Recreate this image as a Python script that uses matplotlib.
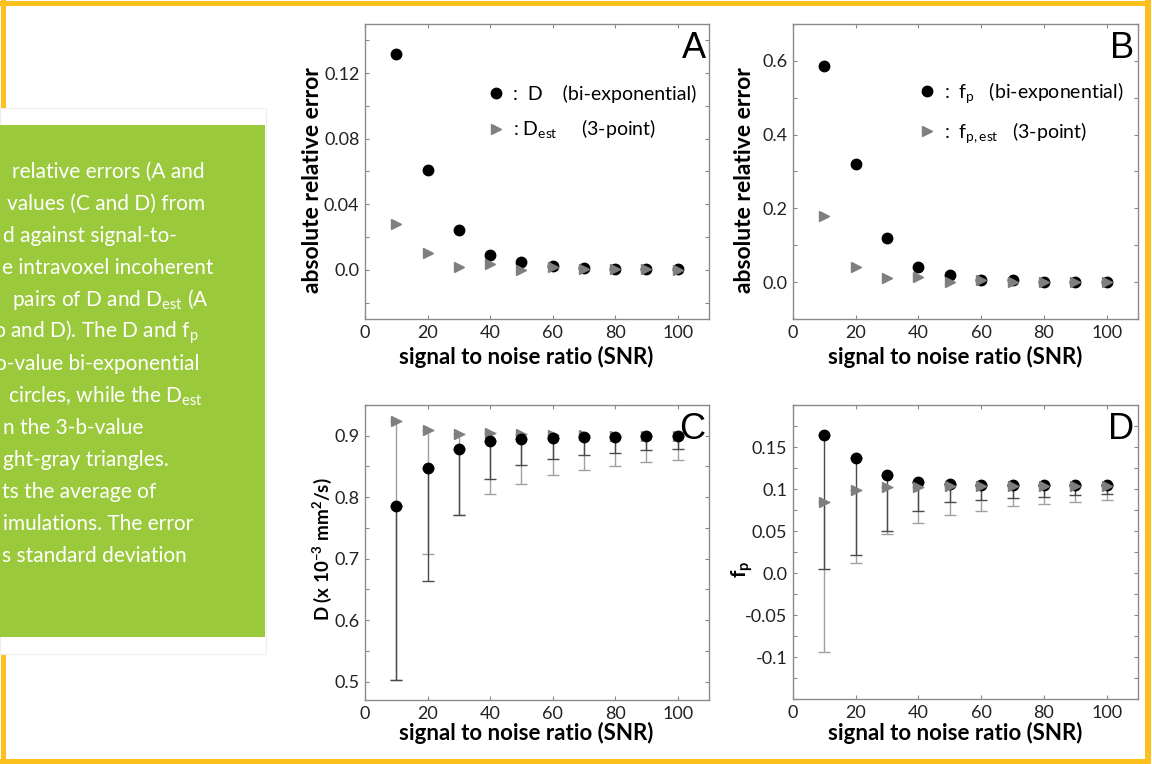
import matplotlib
matplotlib.use("Agg")
import matplotlib.pyplot as plt
from matplotlib.lines import Line2D
from matplotlib.patches import Rectangle
from matplotlib.ticker import FixedLocator, MultipleLocator
import numpy as np

plt.rcParams["font.family"] = ["Lato", "DejaVu Sans"]
plt.rcParams["mathtext.fontset"] = "custom"
plt.rcParams["mathtext.rm"] = "Lato"
plt.rcParams["mathtext.it"] = "Lato"
plt.rcParams["mathtext.bf"] = "Lato:bold"

W, H = 1152, 764

snr = [10, 20, 30, 40, 50, 60, 70, 80, 90, 100]

# panel A: absolute relative error of D
err_d = [0.1315, 0.0607, 0.0243, 0.0091, 0.0047, 0.0022, 0.0012, 0.0008, 0.0005, 0.0003]
err_dest = [0.0277, 0.0105, 0.0020, 0.0036, 0.0000, 0.0018, 0.0008, 0.0006, 0.0004, 0.0002]

# panel B: absolute relative error of fp
err_fp = [0.587, 0.320, 0.120, 0.041, 0.018, 0.006, 0.005, 0.001, 0.000, 0.000]
err_fpest = [0.178, 0.041, 0.011, 0.015, 0.000, 0.005, 0.000, 0.000, 0.000, 0.000]

# panel C: D mean and (lower) standard deviation
d_mean = [0.786, 0.847, 0.878, 0.891, 0.895, 0.897, 0.898, 0.898, 0.899, 0.899]
d_sd = [0.284, 0.184, 0.107, 0.062, 0.043, 0.0345, 0.030, 0.026, 0.023, 0.021]
dest_mean = [0.924, 0.909, 0.902, 0.904, 0.902, 0.901, 0.901, 0.900, 0.900, 0.900]
dest_sd = [0.421, 0.201, 0.131, 0.099, 0.080, 0.065, 0.057, 0.0495, 0.0435, 0.040]

# panel D: fp mean and (lower) standard deviation
fp_mean = [0.1647, 0.1369, 0.1163, 0.108, 0.106, 0.1048, 0.1045, 0.1043, 0.1042, 0.1042]
fp_sd = [0.160, 0.115, 0.0667, 0.0346, 0.0211, 0.0175, 0.0152, 0.0134, 0.0117, 0.0102]
fpest_mean = [0.0845, 0.0992, 0.102, 0.102, 0.103, 0.103, 0.103, 0.103, 0.103, 0.103]
fpest_sd = [0.179, 0.0873, 0.0556, 0.0429, 0.0343, 0.0288, 0.0236, 0.0209, 0.0189, 0.0165]

x_ticks = [0, 20, 40, 60, 80, 100]
a_yticks = [0.0, 0.04, 0.08, 0.12]
a_ylabels = ["0.0", "0.04", "0.08", "0.12"]
b_yticks = [0.0, 0.2, 0.4, 0.6]
b_ylabels = ["0.0", "0.2", "0.4", "0.6"]
c_yticks = [0.5, 0.6, 0.7, 0.8, 0.9]
c_ylabels = ["0.5", "0.6", "0.7", "0.8", "0.9"]
d_yticks = [-0.1, -0.05, 0.0, 0.05, 0.1, 0.15]
d_ylabels = ["-0.1", "-0.05", "0.0", "0.05", "0.1", "0.15"]

caption_lines = [
    "relative errors (A and",
    "values (C and D) from",
    "d against signal-to-",
    "e intravoxel incoherent",
    r"pairs of D and D$_{\mathrm{est}}$ (A",
    r"ɔ and D). The D and f$_{\mathrm{p}}$",
    "o-value bi-exponential",
    r" circles, while the D$_{\mathrm{est}}$",
    "n the 3-b-value",
    "ght-gray triangles.",
    "ts the average of",
    "imulations. The error",
    "s standard deviation",
]
caption_x = [12, 7, 3, 2, 12, -5, -5, 3, 3, 3, 2, 3, 2]

GRAY = "#7f7f7f"
YELLOW = "#fcc01d"
GREEN = "#9bc93c"


def px_axes(fig, left, top, right, bottom):
    return fig.add_axes([left / W, 1 - bottom / H, (right - left) / W, (bottom - top) / H])


def style(ax, ylim, yticks, ylabels, minor):
    ax.set_xlim(0, 110)
    ax.set_ylim(*ylim)
    ax.xaxis.set_major_locator(FixedLocator(x_ticks))
    ax.set_xticklabels([str(t) for t in x_ticks])
    ax.yaxis.set_major_locator(FixedLocator(yticks))
    ax.set_yticklabels(ylabels)
    ax.yaxis.set_minor_locator(MultipleLocator(minor))
    ax.tick_params(which="both", direction="in", top=True, right=True,
                   length=3, width=0.8, color="#888888",
                   labelsize=13, labelcolor="#222222", pad=4)
    for sp in ax.spines.values():
        sp.set_color("#8a8a8a")
        sp.set_linewidth(1.0)


fig = plt.figure(figsize=(W / 100, H / 100), dpi=100)

# frame and caption card
fig.add_artist(Rectangle((0, 1 - 6 / H), 1151 / W, 5 / H, transform=fig.transFigure,
                         facecolor=YELLOW, edgecolor="none"))
fig.add_artist(Rectangle((0, 0), 1151 / W, 5 / H, transform=fig.transFigure,
                         facecolor=YELLOW, edgecolor="none"))
fig.add_artist(Rectangle((1145 / W, 0), 6 / W, 1, transform=fig.transFigure,
                         facecolor=YELLOW, edgecolor="none"))
fig.add_artist(Rectangle((1 / W, 0), 5 / W, 1, transform=fig.transFigure,
                         facecolor=YELLOW, edgecolor="none"))
fig.add_artist(Rectangle((0, 1 - 654 / H), 266 / W, 546 / H, transform=fig.transFigure,
                         facecolor="white", edgecolor="#eeeeee", linewidth=0.8))
fig.add_artist(Rectangle((0, 1 - 637 / H), 265 / W, 512 / H, transform=fig.transFigure,
                         facecolor=GREEN, edgecolor="none"))
for i, line in enumerate(caption_lines):
    fig.text(caption_x[i] / W, 1 - (172 + 32 * i) / H, line, color="white",
             fontsize=15, ha="left", va="center")

axA = px_axes(fig, 365, 24, 709, 319)
axB = px_axes(fig, 793, 24, 1138, 319)
axC = px_axes(fig, 365, 405, 709, 700)
axD = px_axes(fig, 793, 405, 1138, 699)

ms_c, ms_t = 7.5, 7.5

# A
axA.plot(snr, err_d, "o", color="black", ms=ms_c, zorder=3)
axA.plot(snr, err_dest, ">", color=GRAY, ms=ms_t, zorder=4)
style(axA, (-0.03, 0.15), a_yticks, a_ylabels, 0.02)

# B
axB.plot(snr, err_fp, "o", color="black", ms=ms_c, zorder=3)
axB.plot(snr, err_fpest, ">", color=GRAY, ms=ms_t, zorder=4)
style(axB, (-0.1, 0.7), b_yticks, b_ylabels, 0.1)

# C
zeros = np.zeros(len(snr))
axC.errorbar(snr, dest_mean, yerr=[dest_sd, zeros], fmt="none", ecolor="#a0a0a0",
             elinewidth=1.0, capsize=4, capthick=1.0, zorder=1)
axC.errorbar(snr, d_mean, yerr=[d_sd, zeros], fmt="none", ecolor="#4a4a4a",
             elinewidth=1.0, capsize=4, capthick=1.0, zorder=2)
axC.plot(snr, dest_mean, ">", color=GRAY, ms=ms_t, zorder=3)
axC.plot(snr, d_mean, "o", color="black", ms=ms_c, zorder=4)
style(axC, (0.47, 0.95), c_yticks, c_ylabels, 0.05)

# D
axD.errorbar(snr, fpest_mean, yerr=[fpest_sd, zeros], fmt="none", ecolor="#a0a0a0",
             elinewidth=1.0, capsize=4, capthick=1.0, zorder=1)
axD.errorbar(snr, fp_mean, yerr=[fp_sd, zeros], fmt="none", ecolor="#4a4a4a",
             elinewidth=1.0, capsize=4, capthick=1.0, zorder=2)
axD.plot(snr, fp_mean, "o", color="black", ms=ms_c, zorder=3)
axD.plot(snr, fpest_mean, ">", color=GRAY, ms=ms_t, zorder=4)
style(axD, (-0.15, 0.2), d_yticks, d_ylabels, 0.025)

# legends
circ = Line2D([], [], marker="o", color="black", ls="none", ms=ms_c)
tri = Line2D([], [], marker=">", color=GRAY, ls="none", ms=ms_t)
axA.legend([circ, tri], [":  D    (bi-exponential)", r": D$_{\mathrm{est}}$     (3-point)"],
           loc="center left", bbox_to_anchor=(0.318, 0.70), frameon=False, fontsize=14,
           handletextpad=0.3, labelspacing=0.75, handlelength=1.2, borderpad=0)
axB.legend([circ, tri], [r":  f$_{\mathrm{p}}$   (bi-exponential)", r":  f$_{\mathrm{p,est}}$   (3-point)"],
           loc="center left", bbox_to_anchor=(0.325, 0.70), frameon=False, fontsize=14,
           handletextpad=0.3, labelspacing=0.75, handlelength=1.2, borderpad=0)

for ax, letter in zip([axA, axB, axC, axD], "ABCD"):
    ax.text(0.99, 0.975, letter, transform=ax.transAxes, ha="right", va="top",
            fontsize=26, family="Liberation Sans")

xlab = "signal to noise ratio (SNR)"
for ax, lab_y in [(axA, -0.129), (axB, -0.129), (axC, -0.112), (axD, -0.115)]:
    ax.set_xlabel(xlab, fontsize=16, fontweight="bold", va="center")
    ax.xaxis.set_label_coords(0.47, lab_y)

axA.set_ylabel("absolute relative error", fontsize=16.5, fontweight="bold", va="center")
axA.yaxis.set_label_coords(-0.153, 0.47)
axB.set_ylabel("absolute relative error", fontsize=16.5, fontweight="bold", va="center")
axB.yaxis.set_label_coords(-0.14, 0.47)
axC.set_ylabel(r"D (x 10$^{\mathbf{-3}}$ mm$^{\mathbf{2}}$/s)", fontsize=13.5,
               fontweight="bold", va="center")
axC.yaxis.set_label_coords(-0.125, 0.51)
axD.set_ylabel(r"$\mathbf{f_p}$", fontsize=15, fontweight="bold", va="center")
axD.yaxis.set_label_coords(-0.148, 0.44)

fig.savefig("out.png", dpi=100)
